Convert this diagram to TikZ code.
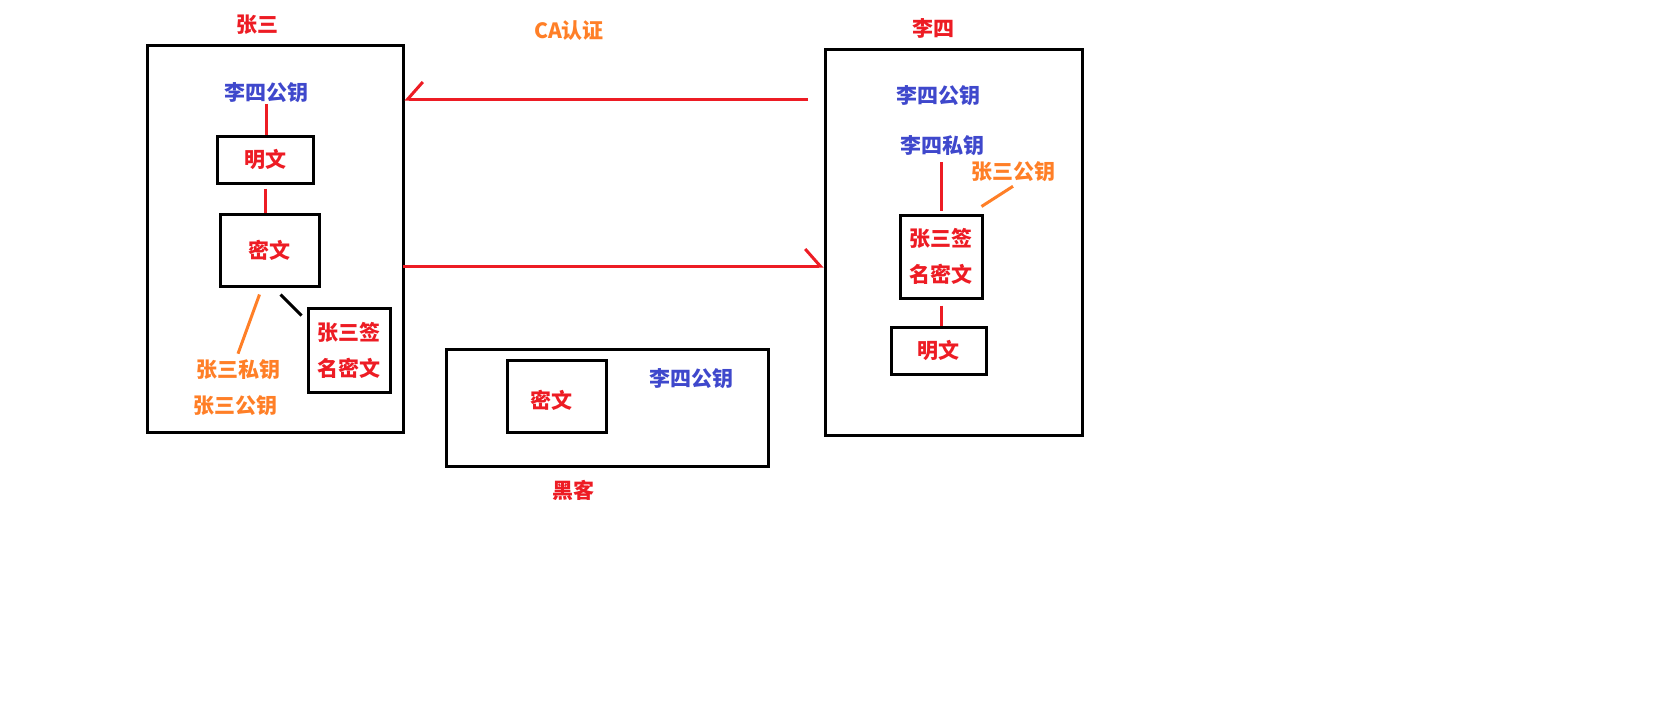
\documentclass[tikz,border=0pt]{standalone}
\usepackage{fontspec}
\newfontfamily\cjk{Noto Sans CJK SC}
\usetikzlibrary{arrows.meta}
\definecolor{zred}{RGB}{237,28,36}
\definecolor{zblue}{RGB}{63,72,204}
\definecolor{zorange}{RGB}{255,127,39}
\tikzset{
  box/.style={draw=black,line width=3pt,inner sep=0pt},
  lbl/.style={inner sep=1pt,font=\cjk\bfseries\fontsize{21}{36}\selectfont,align=center},
  redline/.style={draw=zred,line width=3pt},
  orangeline/.style={draw=zorange,line width=3pt},
  msg/.style={draw=zred,line width=3pt,-{Straight Barb[harpoon,length=15pt,width=34pt]}},
  msgback/.style={draw=zred,line width=3pt,-{Straight Barb[harpoon,swap,length=15pt,width=34pt]}},
}
\begin{document}
\begin{tikzpicture}[x=1pt,y=1pt,yscale=-1]
	\useasboundingbox (0,0) rectangle (1673,701);
	
	%Outer boxes
	\node [box,minimum width=256pt,minimum height=386pt] (zhang) at (275,239) {};
	\node [box,minimum width=257pt,minimum height=385pt] (li) at (953.5,242.5) {};
	\node [box,minimum width=322pt,minimum height=117pt] (hacker) at (607,407.5) {};
	
	%Inner boxes
	\node [box,lbl,text=zred,minimum width=96pt,minimum height=47pt] (zPlain) at (265,159.5) {明文};
	\node [box,lbl,text=zred,minimum width=99pt,minimum height=72pt] (zCipher) at (269.5,250) {密文};
	\node [box,lbl,text=zred,minimum width=82pt,minimum height=84pt] (zSign) at (349,350) {张三签\\名密文};
	\node [box,lbl,text=zred,minimum width=82pt,minimum height=83pt] (lSign) at (941,256.5) {张三签\\名密文};
	\node [box,lbl,text=zred,minimum width=95pt,minimum height=47pt] (lPlain) at (938.5,350.5) {明文};
	\node [box,minimum width=99pt,minimum height=72pt] (hCipher) at (556.5,396) {};
	
	% Text Node
	\draw (257,25) node [lbl,text=zred] (zName) {张三};
	% Text Node
	\draw (569,31) node [lbl,text=zorange] (caText) {CA认证};
	% Text Node
	\draw (933,28) node [lbl,text=zred] (lName) {李四};
	% Text Node
	\draw (266,93) node [lbl,text=zblue] (zLiPub) {李四公钥};
	% Text Node
	\draw (238,370) node [lbl,text=zorange] (zPriv) {张三私钥};
	% Text Node
	\draw (235,406) node [lbl,text=zorange] (zZsPub) {张三公钥};
	% Text Node
	\draw (938,96) node [lbl,text=zblue] (lLiPub) {李四公钥};
	% Text Node
	\draw (942,146) node [lbl,text=zblue] (lPriv) {李四私钥};
	% Text Node
	\draw (1013,172) node [lbl,text=zorange] (lZsPub) {张三公钥};
	% Text Node
	\draw (551,400) node [lbl,text=zred] (hCipherText) {密文};
	% Text Node
	\draw (691,379) node [lbl,text=zblue] (hLiPub) {李四公钥};
	% Text Node
	\draw (573,490) node [lbl,text=zred] (hName) {黑客};
	
	%Straight Lines
	\draw [redline] (zLiPub.south) -- (zLiPub.south |- zPlain.north);
	\draw [redline,shorten <=4pt] (zPlain.south) -- (zPlain.south |- zCipher.north);
	\draw [orangeline] ([xshift=-10pt,yshift=7pt]zCipher.south) -- ([xshift=0pt,yshift=-5pt]zPriv.north);
	\draw [line width=3pt] ([xshift=-40pt,yshift=7pt]zCipher.south east) -- ([xshift=-5pt,yshift=9pt]zSign.north west);
	\draw [redline,shorten <=5pt,shorten >=3pt] (lPriv.south -| lSign.north) -- (lSign.north);
	\draw [orangeline] ([yshift=3pt]lZsPub.south) -- ([xshift=-2pt,yshift=-7pt]lSign.north east);
	\draw [redline,shorten <=6pt] (lSign.south) -- (lSign.south |- lPlain.north);
	
	%Arrows
	\coordinate (caStart) at (808,99);
	\coordinate (sendStart) at (403,266);
	\draw [msgback] (caStart) -- (caStart -| zhang.east);
	\draw [msg] (sendStart) -- (sendStart -| li.west);
	
\end{tikzpicture}
\end{document}
